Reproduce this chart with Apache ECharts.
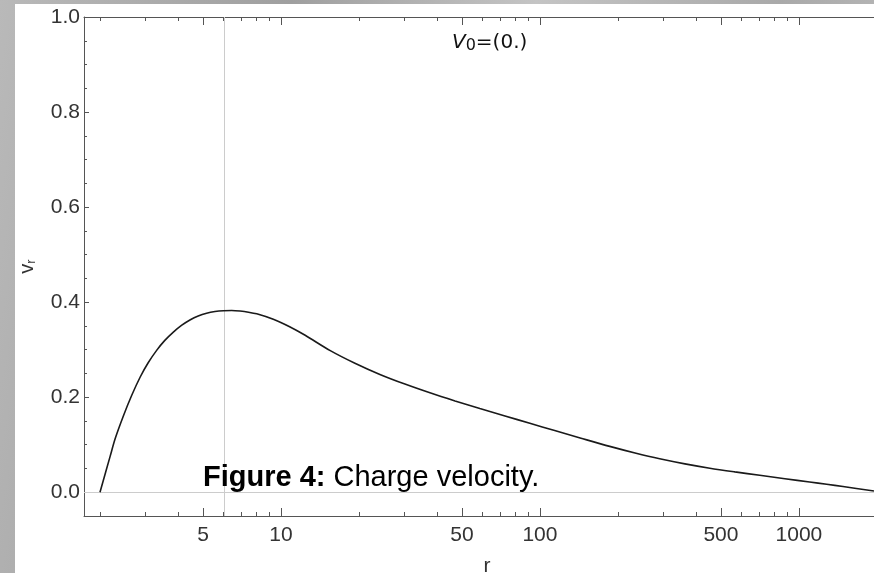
<!DOCTYPE html>
<html>
<head>
<meta charset="utf-8">
<script src="https://cdn.jsdelivr.net/npm/echarts@6/dist/echarts.min.js"></script>
<style>
  html, body { margin: 0; padding: 0; }
  body {
    width: 874px; height: 573px; overflow: hidden; position: relative;
    background: linear-gradient(100deg, #b9b9b9 0%, #9f9f9f 30%, #c4c4c4 55%, #a9a9a9 80%, #bdbdbd 100%);
  }
  #panel { position: absolute; left: 15px; top: 4px; width: 859px; height: 569px; background: #ffffff; }
  #chart { position: absolute; left: 0; top: 0; width: 874px; height: 573px; }
</style>
</head>
<body>
<div id="panel"></div>
<div id="chart"></div>
<script>
// ---- data ----
const rValues = [2, 2.19, 2.29, 2.46, 2.65, 2.86, 3.07, 3.31, 3.56, 3.84, 4.14, 4.45, 4.79, 5.16, 5.56, 6.0, 6.45, 6.95, 7.49, 8.06, 9.34, 10.8, 12.4, 15.5, 19.3, 24.1, 30.1, 37.6, 47, 58.6, 73.3, 91.4, 114, 143, 186, 233, 290, 363, 453, 566, 706, 883, 1100, 1280, 1480, 1950];
const vValues = [0, 0.076, 0.113, 0.160, 0.2035, 0.2425, 0.2725, 0.2985, 0.3195, 0.337, 0.3515, 0.3625, 0.371, 0.3768, 0.3803, 0.382, 0.3823, 0.3812, 0.3789, 0.3754, 0.3639, 0.3482, 0.3302, 0.298, 0.2714, 0.2478, 0.2275, 0.2091, 0.1921, 0.1762, 0.1605, 0.1451, 0.1297, 0.1142, 0.0965, 0.0826, 0.0704, 0.0597, 0.0506, 0.0428, 0.0356, 0.0285, 0.0216, 0.0168, 0.0121, 0.0025];
const xMajorTicks = [5, 10, 50, 100, 500, 1000];
const xMinorTicks = [2, 3, 4, 6, 7, 8, 9, 20, 30, 40, 60, 70, 80, 90, 200, 300, 400, 600, 700, 800, 900];
const yMajorTicks = [0, 0.2, 0.4, 0.6, 0.8, 1.0];
const yMinorTicks = [0.05, 0.1, 0.15, 0.25, 0.3, 0.35, 0.45, 0.5, 0.55, 0.65, 0.7, 0.75, 0.85, 0.9, 0.95];
const peakR = 6;
const xRange = [1.735, 1950];
const yRange = [-0.05, 1.0];

const L = Math.log10;
const data = rValues.map((r, i) => [L(r), vValues[i]]);
const axisColor = '#555555';
const labelColor = '#333333';
const font = 'Liberation Sans, Arial, sans-serif';

function xAxisDef(position, ticks, len, showLabel, showLine) {
  return {
    type: 'value', position: position,
    min: L(xRange[0]), max: L(xRange[1]),
    axisLine: { show: showLine, onZero: false, lineStyle: { color: axisColor, width: 1 } },
    axisTick: { show: true, inside: true, length: len, customValues: ticks.map(L), lineStyle: { color: axisColor, width: 1 } },
    axisLabel: showLabel ? {
      show: true, customValues: ticks.map(L), margin: 9,
      color: labelColor, fontSize: 21, fontFamily: font,
      formatter: v => String(Math.round(Math.pow(10, v)))
    } : { show: false },
    splitLine: { show: false }
  };
}
function yAxisDef(ticks, len, showLabel, showLine) {
  return {
    type: 'value', position: 'left',
    min: yRange[0], max: yRange[1],
    axisLine: { show: showLine, onZero: false, lineStyle: { color: axisColor, width: 1 } },
    axisTick: { show: true, inside: true, length: len, customValues: ticks, lineStyle: { color: axisColor, width: 1 } },
    axisLabel: showLabel ? {
      show: true, customValues: ticks, margin: 4,
      color: labelColor, fontSize: 21, fontFamily: font,
      formatter: v => v.toFixed(1)
    } : { show: false },
    splitLine: { show: false }
  };
}

const xAxes = [
  xAxisDef('bottom', xMajorTicks, 8, true, true),
  xAxisDef('bottom', xMinorTicks, 4, false, false),
  xAxisDef('top', xMajorTicks, 8, false, true),
  xAxisDef('top', xMinorTicks, 4, false, false)
];
xAxes[0].name = 'r';
xAxes[0].nameLocation = 'middle';
xAxes[0].nameGap = 40;
xAxes[0].nameTextStyle = { color: labelColor, fontSize: 21, fontFamily: font, padding: [0, 0, 0, 16] };

const yAxes = [
  yAxisDef(yMajorTicks, 5, true, true),
  yAxisDef(yMinorTicks, 3, false, false)
];
yAxes[0].name = '{v|v}{s|r}';
yAxes[0].nameLocation = 'middle';
yAxes[0].nameGap = 46;
yAxes[0].nameTextStyle = {
  color: labelColor, fontFamily: font,
  rich: { v: { fontSize: 20, fontFamily: font, color: labelColor }, s: { fontSize: 13, fontFamily: font, color: labelColor, padding: [8, 0, 0, 0] } }
};

const chart = echarts.init(document.getElementById('chart'), null, { renderer: 'canvas' });
chart.setOption({
  animation: false,
  backgroundColor: 'transparent',
  grid: { left: 84, right: 0, top: 17, bottom: 57, containLabel: false, outerBoundsMode: 'none' },
  xAxis: xAxes,
  yAxis: yAxes,
  series: [{
    type: 'line',
    xAxisIndex: 0, yAxisIndex: 0,
    data: data,
    showSymbol: false,
    smooth: 0.3,
    lineStyle: { color: '#1a1a1a', width: 1.6 },
    z: 5,
    markLine: {
      silent: true, symbol: 'none', label: { show: false },
      lineStyle: { color: '#cccccc', width: 1, type: 'solid' },
      data: [{ xAxis: L(peakR) }, { yAxis: 0 }],
      z: 1
    }
  }],
  graphic: [
    {
      type: 'text', left: 452, top: 33, z: 10,
      style: {
        text: '{v|V}{s|0}{t|=(0.)}',
        rich: {
          v: { fontSize: 20, fontStyle: 'italic', fontFamily: 'DejaVu Sans, sans-serif', fill: '#111' },
          s: { fontSize: 16, fontFamily: 'DejaVu Sans, sans-serif', fill: '#111', padding: [6, 0, 0, 0] },
          t: { fontSize: 20, fontFamily: 'DejaVu Sans, sans-serif', fill: '#111' }
        }
      }
    },
    {
      type: 'text', left: 203, top: 463, z: 10,
      style: {
        text: '{b|Figure 4: }{n|Charge velocity.}',
        rich: {
          b: { fontSize: 29, fontWeight: 'bold', fontFamily: font, fill: '#000' },
          n: { fontSize: 29, fontFamily: font, fill: '#000' }
        }
      }
    }
  ]
});
</script>
</body>
</html>
